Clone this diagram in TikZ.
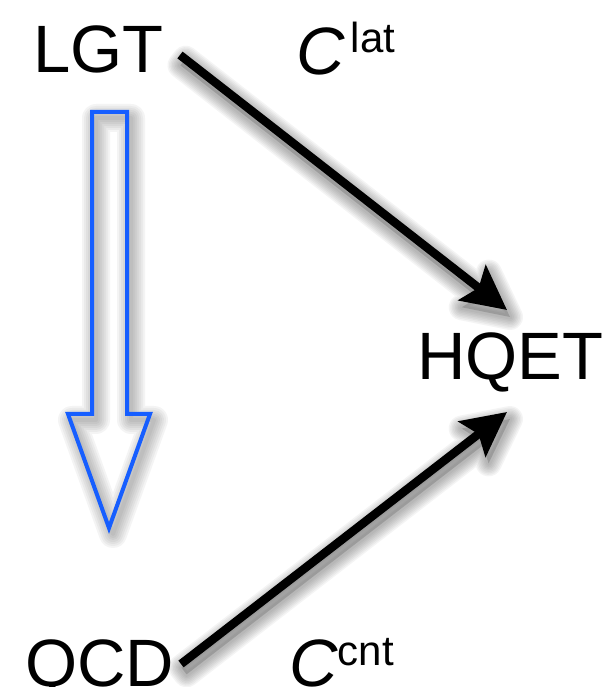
\documentclass[tikz,border=0pt]{standalone}
\usepackage{fontspec}
\setmainfont{Liberation Sans}
\usetikzlibrary{arrows.meta,calc}
\definecolor{flowblue}{RGB}{22,94,255}
\tikzset{
  term/.style={inner sep=0pt, anchor=base west, font=\fontsize{67}{70}\selectfont},
  link/.style={line width=8.5pt, -{Stealth[length=44pt,width=44pt,inset=8pt]}},
  reduce/.style={draw=flowblue, line width=4pt, line join=miter},
  shadowline/.style={draw=black!75, draw opacity=0.055, line join=round},
}
\newcommand\supsz{\fontsize{42}{44}\selectfont}

% soft drop shadow under a thick arrow running from #1 to #2
\newcommand\linkshadow[2]{%
  \path let \p1=($(#2)-(#1)$) in
    \pgfextra{\pgfmathparse{atan2(\y1,\x1)}\xdef\shang{\pgfmathresult}%
              \pgfmathparse{veclen(\x1,\y1)}\xdef\shlen{\pgfmathresult}};
  \begin{scope}[shift={($(#1)+(3,-7)$)}, rotate=\shang]
    \foreach \w in {26,23,20,17,14,11,8,5}{
      \path[shadowline, line width=\w pt]
        (0,-4.25) -- (\shlen-37.5,-4.25) -- (\shlen-44,-22) -- (\shlen,0)
        -- (\shlen-44,22) -- (\shlen-37.5,4.25) -- (0,4.25) -- cycle;
    }
    \fill[black, fill opacity=0.15]
        (0,-4.25) -- (\shlen-37.5,-4.25) -- (\shlen-44,-22) -- (\shlen,0)
        -- (\shlen-44,22) -- (\shlen-37.5,4.25) -- (0,4.25) -- cycle;
  \end{scope}}

\begin{document}
\begin{tikzpicture}[x=1pt,y=1pt]
  \fill[white] (0,0) rectangle (608,687);
  \useasboundingbox (0,0) rectangle (608,687);

  % theory labels
  \node[term] (LGT)  at (33,614)  {LGT};
  \node[term] (HQET) at (417,307) {HQET};
  \node[term] (QCD)  at (25,1)    {QCD};

  % matching coefficients
  \node[term] (Clat) at (296,612) {\textit{C}\kern6pt\raisebox{22pt}{\supsz lat}};
  \node[term] (Ccnt) at (289,1)   {\textit{C}\raisebox{21pt}{\supsz cnt}};

  % connector end points
  \coordinate (lgtout)  at (180,632);
  \coordinate (qcdout)  at (181,23);
  \coordinate (hqetin1) at (507,377);
  \coordinate (hqetin2) at (507,275);

  % continuum limit arrow: LGT down to QCD (outline only, shadow shows through)
  \begin{scope}[shift={(4,-6)}]
    \foreach \w in {28,24,20,16,12,8,4}{
      \path[shadowline, line width=\w pt]
        (92,575) -- (127,575) -- (127,273) -- (150,273) -- (109,159)
        -- (68,273) -- (92,273) -- cycle;
    }
  \end{scope}
  \draw[reduce]
    (92,575) -- (127,575) -- (127,273) -- (150,273) -- (109,159)
    -- (68,273) -- (92,273) -- cycle;

  % matching arrows into HQET
  \linkshadow{lgtout}{hqetin1}
  \linkshadow{qcdout}{hqetin2}
  \draw[link] (lgtout) -- (hqetin1);
  \draw[link] (qcdout) -- (hqetin2);
\end{tikzpicture}
\end{document}
